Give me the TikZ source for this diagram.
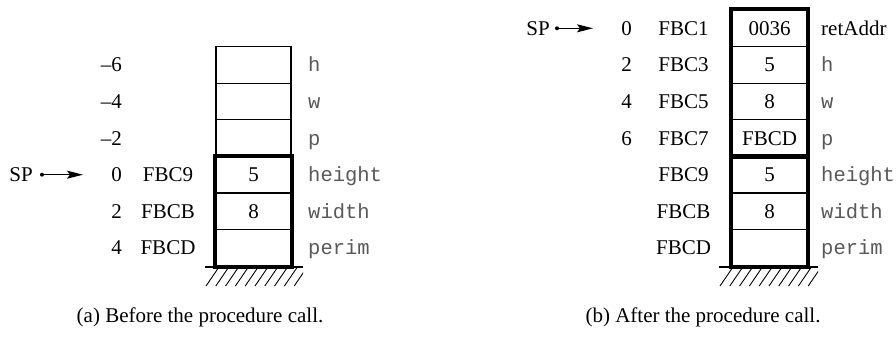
\documentclass[tikz,border=0pt]{standalone}
\usepackage{fontspec}
\setmainfont{Liberation Serif}
\setmonofont{Liberation Mono}
\usetikzlibrary{arrows.meta}
\tikzset{
  cell/.style={draw, line width=1.2pt, minimum width=75pt, minimum height=36.6pt, inner sep=0pt,
    font=\fontsize{21}{25}\selectfont, text height=14pt, text depth=0pt},
  txt/.style={inner sep=0pt, font=\fontsize{21}{25}\selectfont, text height=14pt, text depth=0pt},
  var/.style={inner sep=0pt, anchor=west, font=\fontsize{20.5}{25}\ttfamily\mdseries, text=black!65, text height=14pt, text depth=0pt},
  num/.style={txt, anchor=east},
  thickbox/.style={line width=4pt},
  hatch/.style={line width=0.9pt},
  sparrow/.style={line width=1.2pt, -{Stealth[length=16pt, width=8pt, inset=3pt]}},
}
\begin{document}
\begin{tikzpicture}[x=1pt, y={(0pt,-1pt)}]
\useasboundingbox (0,0) rectangle (896,342);
% ---------- (a) ----------
\node[cell] (a1) at (253.5,64.9) {};
\node[cell] (a2) at (253.5,101.5) {};
\node[cell] (a3) at (253.5,138.1) {};
\node[cell] (a4) at (253.5,174.7) {5};
\node[cell] (a5) at (253.5,211.3) {8};
\node[cell] (a6) at (253.5,247.9) {};
\draw[thickbox] (a4.north west) rectangle (a6.south east);
\node[num] (an1) at (122,64.9) {–6};
\node[num] (an2) at (122,101.5) {–4};
\node[num] (an3) at (122,138.1) {–2};
\node[num] (an4) at (122,174.7) {0};
\node[num] (an5) at (122,211.3) {2};
\node[num] (an6) at (122,247.9) {4};
\node[txt] (aa4) at (168,174.7) {FBC9};
\node[txt] (aa5) at (168,211.3) {FBCB};
\node[txt] (aa6) at (168,247.9) {FBCD};
\node[var] (av1) at (308,64.9) {h};
\node[var] (av2) at (308,101.5) {w};
\node[var] (av3) at (308,138.1) {p};
\node[var] (av4) at (308,174.7) {height};
\node[var] (av5) at (308,211.3) {width};
\node[var] (av6) at (308,247.9) {perim};
\coordinate (ag1) at (205,267);
\coordinate (ag2) at (303,267);
\draw[line width=1.2pt] (ag1) -- (ag2);
\begin{scope}
\clip (205,267) rectangle (303,290);
\foreach \k in {0,...,9} {
  \draw[hatch] ({206+9.8*\k},286) -- ({219+9.8*\k},267);
}
\end{scope}
\node[txt, anchor=east] (spa) at (33,174.7) {SP};
\coordinate (spadot) at (42,174.7);
\coordinate (spatip) at (83,174.7);
\fill (spadot) circle (2pt);
\draw[sparrow] (spadot) -- (spatip);
\node[txt] (capa) at (200,315) {(a) Before the procedure call.};
% ---------- (b) ----------
\node[cell] (b0) at (769.5,28.3) {0036};
\node[cell] (b1) at (769.5,64.9) {5};
\node[cell] (b2) at (769.5,101.5) {8};
\node[cell] (b3) at (769.5,138.1) {FBCD};
\node[cell] (b4) at (769.5,174.7) {5};
\node[cell] (b5) at (769.5,211.3) {8};
\node[cell] (b6) at (769.5,247.9) {};
\draw[thickbox] (b0.north west) rectangle (b3.south east);
\draw[thickbox] (b4.north west) rectangle (b6.south east);
\node[num] (bn0) at (632,28.3) {0};
\node[num] (bn1) at (632,64.9) {2};
\node[num] (bn2) at (632,101.5) {4};
\node[num] (bn3) at (632,138.1) {6};
\node[txt] (ba0) at (683.5,28.3) {FBC1};
\node[txt] (ba1) at (683.5,64.9) {FBC3};
\node[txt] (ba2) at (683.5,101.5) {FBC5};
\node[txt] (ba3) at (683.5,138.1) {FBC7};
\node[txt] (ba4) at (683.5,174.7) {FBC9};
\node[txt] (ba5) at (683.5,211.3) {FBCB};
\node[txt] (ba6) at (683.5,247.9) {FBCD};
\node[txt, anchor=west] (bv0) at (821,28.3) {retAddr};
\node[var] (bv1) at (821,64.9) {h};
\node[var] (bv2) at (821,101.5) {w};
\node[var] (bv3) at (821,138.1) {p};
\node[var] (bv4) at (821,174.7) {height};
\node[var] (bv5) at (821,211.3) {width};
\node[var] (bv6) at (821,247.9) {perim};
\coordinate (bg1) at (719,267);
\coordinate (bg2) at (818,267);
\draw[line width=1.2pt] (bg1) -- (bg2);
\begin{scope}
\clip (719,267) rectangle (818,290);
\foreach \k in {0,...,9} {
  \draw[hatch] ({720+9.8*\k},286) -- ({733+9.8*\k},267);
}
\end{scope}
\node[txt, anchor=east] (spb) at (550,28.3) {SP};
\coordinate (spbdot) at (557,28.3);
\coordinate (spbtip) at (593,28.3);
\fill (spbdot) circle (2pt);
\draw[sparrow] (spbdot) -- (spbtip);
\node[txt] (capb) at (703,315) {(b) After the procedure call.};
\end{tikzpicture}
\end{document}
